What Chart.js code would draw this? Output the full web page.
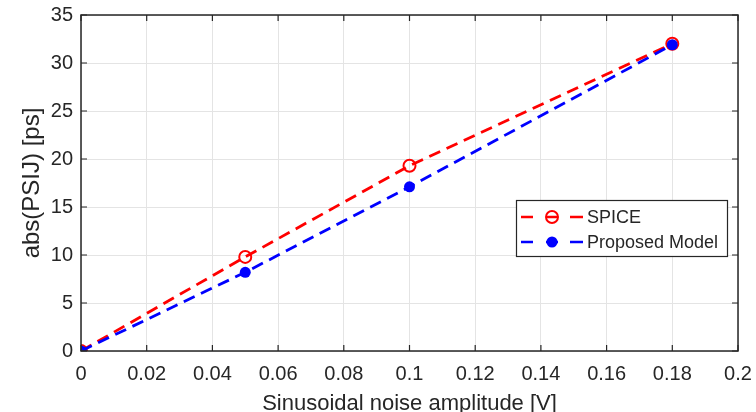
<!DOCTYPE html>
<html>
<head>
<meta charset="utf-8">
<script src="https://cdn.jsdelivr.net/npm/chart.js@4/dist/chart.umd.min.js"></script>
<style>
  html, body { margin: 0; padding: 0; background: #fff; }
  #wrap { width: 756px; height: 412px; position: relative; }
</style>
</head>
<body>
<div id="wrap"><canvas id="chart"></canvas></div>
<script>
// noise amplitude [V] and jitter [ps]
var amplitude = [0, 0.05, 0.1, 0.18];
var spicePsij = [0, 9.8, 19.3, 32.0];
var modelPsij = [0, 8.2, 17.1, 31.9];
var seriesNames = ['SPICE', 'Proposed Model'];

function pts(xs, ys) {
    return xs.map(function (x, i) { return { x: x, y: ys[i] }; });
}

var FONT = '"Liberation Sans", Arial, sans-serif';
var AXIS_GRAY = '#262626';

// box around the plot with inward ticks on all four sides
var boxTicks = {
    id: 'boxTicks',
    afterDatasetsDraw: function (chart) {
        var c = chart.ctx, a = chart.chartArea;
        var xs = chart.scales.x, ys = chart.scales.y;
        c.save();
        c.strokeStyle = AXIS_GRAY;
        c.lineWidth = 1.5;
        c.strokeRect(a.left, a.top, a.right - a.left, a.bottom - a.top);
        c.lineWidth = 1.2;
        c.beginPath();
        xs.ticks.forEach(function (t) {
            var px = xs.getPixelForValue(t.value);
            c.moveTo(px, a.bottom); c.lineTo(px, a.bottom - 6);
            c.moveTo(px, a.top); c.lineTo(px, a.top + 6);
        });
        ys.ticks.forEach(function (t) {
            var py = ys.getPixelForValue(t.value);
            c.moveTo(a.left, py); c.lineTo(a.left + 6, py);
            c.moveTo(a.right, py); c.lineTo(a.right - 6, py);
        });
        c.stroke();
        c.restore();
    }
};

// legend box inside the plot, lower right
var insideLegend = {
    id: 'insideLegend',
    afterDraw: function (chart) {
        var c = chart.ctx;
        var bx = 516, by = 200, bw = 211, bh = 56;
        c.save();
        c.fillStyle = '#fff';
        c.fillRect(bx, by, bw, bh);
        c.strokeStyle = AXIS_GRAY;
        c.lineWidth = 1.2;
        c.strokeRect(bx + 0.5, by + 0.5, bw, bh);
        var rows = [
            { y: by + 17, color: '#ff0000', filled: false, text: seriesNames[0] },
            { y: by + 42, color: '#0000ff', filled: true, text: seriesNames[1] }
        ];
        rows.forEach(function (r) {
            c.strokeStyle = r.color;
            c.lineWidth = 2.5;
            c.beginPath();
            c.moveTo(bx + 5, r.y); c.lineTo(bx + 17, r.y);
            c.moveTo(bx + 30, r.y); c.lineTo(bx + 42, r.y);
            c.moveTo(bx + 54, r.y); c.lineTo(bx + 67, r.y);
            c.stroke();
            c.beginPath();
            c.arc(bx + 36, r.y, r.filled ? 5.5 : 6, 0, Math.PI * 2);
            if (r.filled) { c.fillStyle = r.color; c.fill(); }
            else { c.lineWidth = 2; c.stroke(); }
            c.fillStyle = AXIS_GRAY;
            c.font = '18px ' + FONT;
            c.textBaseline = 'middle';
            c.fillText(r.text, bx + 71, r.y + 1);
        });
        c.restore();
    }
};

var config = {
    type: 'scatter',
    data: {
        datasets: [{
            label: seriesNames[0],
            data: pts(amplitude, spicePsij),
            showLine: true,
            borderColor: '#ff0000',
            borderWidth: 2.8,
            borderDash: [12, 7],
            pointStyle: 'circle',
            pointRadius: 6,
            pointBorderWidth: 2,
            pointBorderColor: '#ff0000',
            pointBackgroundColor: 'rgba(255,255,255,0)',
            order: 2
        }, {
            label: seriesNames[1],
            data: pts(amplitude, modelPsij),
            showLine: true,
            borderColor: '#0000ff',
            borderWidth: 2.8,
            borderDash: [12, 7],
            pointStyle: 'circle',
            pointRadius: 5.5,
            pointBorderWidth: 0,
            pointBackgroundColor: '#0000ff',
            order: 1
        }]
    },
    options: {
        responsive: true,
        maintainAspectRatio: false,
        animation: false,
        layout: { padding: { top: 15, right: 18, left: 18, bottom: 0 } },
        plugins: {
            legend: { display: false },
            tooltip: { enabled: false }
        },
        scales: {
            x: {
                type: 'linear',
                min: 0, max: 0.2,
                ticks: {
                    stepSize: 0.02,
                    color: AXIS_GRAY,
                    font: { family: FONT, size: 20 },
                    padding: 11,
                    maxRotation: 0,
                    callback: function (v) { return String(+v.toFixed(2)); }
                },
                grid: { color: '#e4e4e4', drawTicks: false },
                border: { display: false },
                title: {
                    display: true,
                    text: 'Sinusoidal noise amplitude [V]',
                    color: AXIS_GRAY,
                    font: { family: FONT, size: 22, lineHeight: 1 },
                    padding: { top: 0, bottom: -3 }
                },
                afterFit: function (s) {
                    s.height = 61;
                    // end labels may spill past the plot edges
                    s.paddingLeft = 0;
                    s.paddingRight = 0;
                }
            },
            y: {
                min: 0, max: 35,
                ticks: {
                    stepSize: 5,
                    color: AXIS_GRAY,
                    font: { family: FONT, size: 20 },
                    padding: 8
                },
                grid: { color: '#e4e4e4', drawTicks: false },
                border: { display: false },
                title: {
                    display: true,
                    text: 'abs(PSIJ) [ps]',
                    color: AXIS_GRAY,
                    font: { family: FONT, size: 24, lineHeight: 1.2 },
                    padding: { top: 0, bottom: 0 }
                },
                afterFit: function (s) {
                    s.width = 63;
                    s.paddingTop = 0;
                    s.paddingBottom = 0;
                }
            }
        }
    },
    plugins: [boxTicks, insideLegend]
};

var chart = new Chart(document.getElementById('chart').getContext('2d'), config);
</script>
</body>
</html>
